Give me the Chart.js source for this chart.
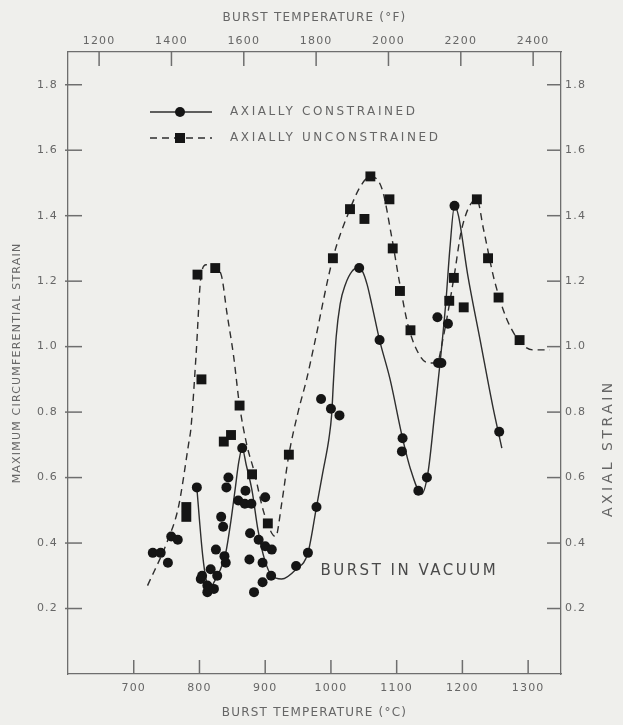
<!DOCTYPE html>
<html>
<head>
<meta charset="utf-8">
<title>Burst strain vs temperature</title>
<script src="https://cdn.jsdelivr.net/npm/chart.js@4/dist/chart.umd.min.js"></script>
<style>
    html, body { margin: 0; padding: 0; background: #efefec; }
    canvas { display: block; }
</style>
</head>
<body>
<canvas id="strain-chart" width="623" height="725"></canvas>
<script>
// axis ticks
const celsiusTicks = [700, 800, 900, 1000, 1100, 1200, 1300];
const fahrenheitTicks = [1200, 1400, 1600, 1800, 2000, 2200, 2400];
const strainTicks = [0.2, 0.4, 0.6, 0.8, 1.0, 1.2, 1.4, 1.6, 1.8];

// axially constrained tests (burst temperature C, max circumferential strain)
const constrainedTemp = [729, 741, 752, 757, 767, 796, 802, 804, 812, 812, 815, 817, 822, 827, 825, 833, 836, 838, 840, 841,
    844, 859, 865, 869, 870, 876, 877, 879, 883, 890, 896, 896, 900, 900, 909, 910, 947, 965, 978, 985,
    1000, 1013, 1043, 1074, 1108, 1109, 1133, 1146, 1163, 1168, 1162, 1178, 1188, 1256];
const constrainedStrain = [0.37, 0.37, 0.34, 0.42, 0.41, 0.57, 0.29, 0.30, 0.27, 0.25, 0.26, 0.32, 0.26, 0.30, 0.38, 0.48, 0.45, 0.36, 0.34, 0.57,
    0.60, 0.53, 0.69, 0.52, 0.56, 0.35, 0.43, 0.52, 0.25, 0.41, 0.34, 0.28, 0.39, 0.54, 0.30, 0.38, 0.33, 0.37, 0.51, 0.84,
    0.81, 0.79, 1.24, 1.02, 0.68, 0.72, 0.56, 0.60, 0.95, 0.95, 1.09, 1.07, 1.43, 0.74];

// axially unconstrained tests
const unconstrainedTemp = [780, 780, 797, 803, 824, 837, 848, 861, 880, 904, 936, 1003, 1029, 1051, 1060, 1089, 1094, 1105, 1121,
    1180, 1187, 1202, 1222, 1239, 1255, 1287];
const unconstrainedStrain = [0.48, 0.51, 1.22, 0.90, 1.24, 0.71, 0.73, 0.82, 0.61, 0.46, 0.67, 1.27, 1.42, 1.39, 1.52, 1.45, 1.30, 1.17, 1.05,
    1.14, 1.21, 1.12, 1.45, 1.27, 1.15, 1.02];

// faired curves as drawn on the figure
const constrainedCurveTemp = [796, 800, 805, 810, 816, 822, 832, 840, 848, 854, 860, 865, 871, 880, 889, 899, 910, 925, 947, 965,
    978, 988, 997, 1001, 1004, 1008, 1014, 1022, 1032, 1040, 1048, 1055, 1062, 1074, 1090, 1109, 1122, 1138, 1148, 1158,
    1166, 1175, 1181, 1188, 1194, 1208, 1227, 1246, 1260];
const constrainedCurveStrain = [0.57, 0.47, 0.36, 0.29, 0.26, 0.28, 0.32, 0.37, 0.47, 0.56, 0.65, 0.69, 0.64, 0.56, 0.44, 0.35, 0.30, 0.29, 0.32, 0.37,
    0.51, 0.62, 0.72, 0.79, 0.90, 1.03, 1.13, 1.19, 1.23, 1.24, 1.23, 1.19, 1.13, 1.02, 0.90, 0.72, 0.62, 0.55, 0.62, 0.80,
    0.95, 1.14, 1.30, 1.43, 1.40, 1.22, 1.02, 0.82, 0.69];
const unconstrainedCurveTemp = [721, 752, 768, 784, 787, 795, 802, 810, 818, 833, 842, 852, 861, 872, 883, 897, 910, 916, 925, 936,
    950, 963, 974, 1003, 1029, 1045, 1060, 1078, 1092, 1104, 1118, 1136, 1150, 1161, 1171, 1187, 1199, 1222, 1232, 1249,
    1273, 1308, 1333];
const unconstrainedCurveStrain = [0.27, 0.41, 0.51, 0.71, 0.75, 0.98, 1.21, 1.25, 1.25, 1.22, 1.10, 0.97, 0.82, 0.70, 0.62, 0.50, 0.43, 0.42, 0.52, 0.67,
    0.80, 0.90, 1.00, 1.27, 1.42, 1.49, 1.52, 1.48, 1.34, 1.20, 1.06, 0.97, 0.95, 0.95, 1.03, 1.21, 1.36, 1.45, 1.36, 1.20,
    1.06, 0.99, 0.99];

const inkColor = '#151515';
const lineColor = '#2e2e2e';
const axisColor = '#6e6e6e';
const textColor = '#666666';
const dashPattern = [7, 5];
const tickLen = 14;

Chart.defaults.font.family = "'DejaVu Sans', sans-serif";
Chart.defaults.color = textColor;

function toPoints(xs, ys) {
    return xs.map((x, i) => ({x: x, y: ys[i]}));
}

function fixSize(size) {
    return function(scale) {
        if (scale.isHorizontal())
            scale.height = size;
        else
            scale.width = size;
    };
}

function setTicks(values) {
    return function(scale) {
        scale.ticks = values.map(v => ({value: v}));
    };
}

function spacedText(ctx, text, x, y, size, spacing) {
    ctx.font = size + "px 'DejaVu Sans', sans-serif";
    ctx.letterSpacing = spacing + 'px';
    ctx.fillText(text, x, y);
}

// tick marks on this figure point into the plot, drawn from each scale's ticks
function drawInwardTicks(chart) {
    const ctx = chart.ctx;
    const area = chart.chartArea;
    const s = chart.scales;
    const segments = [];
    s.x.ticks.forEach(t => {
        const px = s.x.getPixelForValue(t.value);
        segments.push([px, area.bottom, px, area.bottom - tickLen]);
    });
    s.xF.ticks.forEach(t => {
        const px = s.xF.getPixelForValue(t.value);
        segments.push([px, area.top, px, area.top + tickLen]);
    });
    s.y.ticks.forEach(t => {
        const py = s.y.getPixelForValue(t.value);
        segments.push([area.left - 3, py, area.left + tickLen, py]);
    });
    s.y2.ticks.forEach(t => {
        const py = s.y2.getPixelForValue(t.value);
        segments.push([area.right, py, area.right - tickLen, py]);
    });
    ctx.save();
    ctx.setLineDash([]);
    ctx.strokeStyle = axisColor;
    ctx.lineWidth = 1.5;
    segments.forEach(seg => {
        ctx.beginPath();
        ctx.moveTo(seg[0], seg[1]);
        ctx.lineTo(seg[2], seg[3]);
        ctx.stroke();
    });
    ctx.restore();
}

// key, note, right-hand title and ticks
const figureExtras = {
    id: 'figureExtras',
    beforeDraw(chart) {
        chart.ctx.letterSpacing = '1.2px';
    },
    afterDraw(chart) {
        const ctx = chart.ctx;
        const area = chart.chartArea;
        const s = chart.scales;

        drawInwardTicks(chart);

        ctx.save();
        const keyLeft = area.left + 82;
        const keyRight = area.left + 144;
        const keyMark = area.left + 112;
        const rows = [{y: area.top + 60, dash: [], style: 'circle', label: 'AXIALLY CONSTRAINED'},
                      {y: area.top + 86, dash: dashPattern, style: 'rect', label: 'AXIALLY UNCONSTRAINED'}];
        rows.forEach(row => {
            ctx.strokeStyle = lineColor;
            ctx.lineWidth = 1.4;
            ctx.setLineDash(row.dash);
            ctx.beginPath();
            ctx.moveTo(keyLeft, row.y);
            ctx.lineTo(keyRight, row.y);
            ctx.stroke();
            ctx.setLineDash([]);
            ctx.fillStyle = inkColor;
            if (row.style === 'circle') {
                ctx.beginPath();
                ctx.arc(keyMark, row.y, 5, 0, Math.PI * 2);
                ctx.fill();
            }
            else {
                ctx.fillRect(keyMark - 5, row.y - 5, 10, 10);
            }
            ctx.fillStyle = textColor;
            ctx.textAlign = 'left';
            ctx.textBaseline = 'middle';
            spacedText(ctx, row.label, area.left + 162, row.y, 12, 2.6);
        });

        ctx.fillStyle = '#4a4a4a';
        ctx.textAlign = 'left';
        ctx.textBaseline = 'middle';
        spacedText(ctx, 'BURST IN VACUUM', s.x.getPixelForValue(984), s.y.getPixelForValue(0.314), 15, 2.5);

        // axial strain title reads bottom to top
        ctx.fillStyle = textColor;
        ctx.translate(area.right + 47, s.y2.getPixelForValue(0.69));
        ctx.rotate(-Math.PI / 2);
        ctx.textAlign = 'center';
        spacedText(ctx, 'AXIAL STRAIN', 0, 0, 14, 3.5);
        ctx.restore();
        ctx.letterSpacing = '0px';
    }
};

const ctx = document.getElementById('strain-chart').getContext('2d');
new Chart(ctx, {
    type: 'scatter',
    data: {
        datasets: [{
            label: 'Axially constrained',
            data: toPoints(constrainedTemp, constrainedStrain),
            pointStyle: 'circle',
            pointRadius: 5,
            backgroundColor: inkColor,
            borderWidth: 0
        }, {
            label: 'Axially unconstrained',
            data: toPoints(unconstrainedTemp, unconstrainedStrain),
            pointStyle: 'rect',
            pointRadius: 7,
            backgroundColor: inkColor,
            borderWidth: 0
        }, {
            type: 'line',
            label: 'constrained fit',
            data: toPoints(constrainedCurveTemp, constrainedCurveStrain),
            borderColor: lineColor,
            borderWidth: 1.4,
            pointRadius: 0,
            cubicInterpolationMode: 'monotone',
            fill: false
        }, {
            type: 'line',
            label: 'unconstrained fit',
            data: toPoints(unconstrainedCurveTemp, unconstrainedCurveStrain),
            borderColor: lineColor,
            borderWidth: 1.4,
            borderDash: dashPattern,
            pointRadius: 0,
            cubicInterpolationMode: 'monotone',
            fill: false
        }]
    },
    options: {
        responsive: false,
        animation: false,
        devicePixelRatio: 1,
        layout: { padding: 0 },
        plugins: {
            legend: { display: false },
            tooltip: { enabled: false }
        },
        scales: {
            x: {
                type: 'linear',
                position: 'bottom',
                min: 600,
                max: 1350,
                afterBuildTicks: setTicks(celsiusTicks),
                afterFit: fixSize(51),
                grid: { display: false, drawTicks: false },
                border: { display: true, color: axisColor, width: 1.3 },
                ticks: { autoSkip: false, maxRotation: 0, padding: 8, font: { size: 11 }, callback: v => String(v) },
                title: { display: true, text: 'BURST TEMPERATURE (°C)', font: { size: 12 }, padding: { top: 0, bottom: 5 } }
            },
            xF: {
                type: 'linear',
                position: 'top',
                min: 1114,
                max: 2477,
                afterBuildTicks: setTicks(fahrenheitTicks),
                afterFit: fixSize(52),
                grid: { display: false, drawTicks: false },
                border: { display: true, color: axisColor, width: 1.3 },
                ticks: { autoSkip: false, maxRotation: 0, padding: 4, font: { size: 11 }, callback: v => String(v) },
                title: { display: true, text: 'BURST TEMPERATURE (°F)', font: { size: 12 }, padding: { top: 11, bottom: 0 } }
            },
            y: {
                type: 'linear',
                position: 'left',
                min: 0,
                max: 1.9,
                afterBuildTicks: setTicks(strainTicks),
                afterFit: fixSize(68),
                grid: { display: false, drawTicks: false },
                border: { display: true, color: axisColor, width: 1.3 },
                ticks: { autoSkip: false, padding: 10, font: { size: 11 }, callback: v => v.toFixed(1) },
                title: { display: true, text: 'MAXIMUM CIRCUMFERENTIAL STRAIN', font: { size: 11 }, padding: { top: 11, bottom: 0 } }
            },
            y2: {
                type: 'linear',
                position: 'right',
                min: 0,
                max: 1.9,
                afterBuildTicks: setTicks(strainTicks),
                afterFit: fixSize(62),
                grid: { display: false, drawTicks: false },
                border: { display: true, color: axisColor, width: 1.3 },
                ticks: { autoSkip: false, padding: 4, font: { size: 11 }, callback: v => v.toFixed(1) },
                title: { display: false }
            }
        }
    },
    plugins: [figureExtras]
});
</script>
</body>
</html>
